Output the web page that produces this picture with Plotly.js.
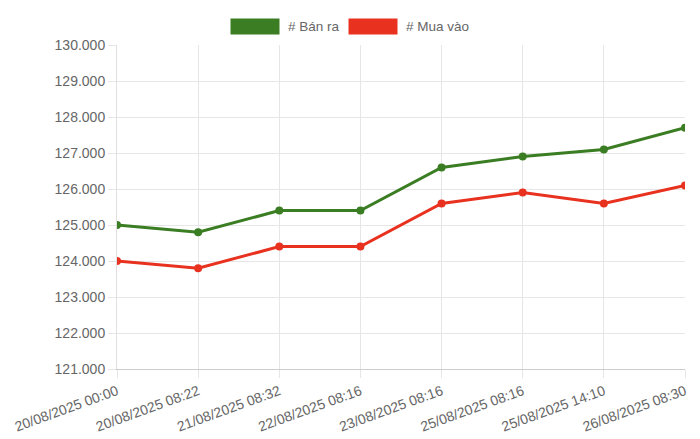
<!DOCTYPE html>
<html>
<head>
<meta charset="utf-8">
<script src="https://cdn.plot.ly/plotly-3.0.1.min.js"></script>
<style>html,body{margin:0;padding:0;background:#fff}#chart{width:700px;height:439px}</style>
</head>
<body>
<div id="chart"></div>
<script>
const categories = ["20/08/2025 00:00","20/08/2025 08:22","21/08/2025 08:32","22/08/2025 08:16","23/08/2025 08:16","25/08/2025 08:16","25/08/2025 14:10","26/08/2025 08:30"];
const banRa = [125000,124800,125400,125400,126600,126900,127100,127700];
const muaVao = [124000,123800,124400,124400,125600,125900,125600,126100];
const seriesNames = ["# Bán ra","# Mua vào"];
const colors = ["#3a7d22","#e8321f"];

const M = {l:117, r:15, t:45, b:70};
const W = 700, H = 439;
const pw = W - M.l - M.r, ph = H - M.t - M.b;
const px = v => (v - M.l) / pw;
const py = v => (H - M.b - v) / ph;

const font = {family:"Liberation Sans, Arial, Helvetica, sans-serif", size:13.5, color:"#666"};
const mk = (y, i) => ({
  x: categories, y: y, type:"scatter", mode:"lines+markers", name: seriesNames[i],
  line:{color:colors[i], width:3}, marker:{color:colors[i], size:8}, showlegend:false, hoverinfo:"x+y"
});
const data = [mk(banRa,0), mk(muaVao,1)];

// legend drawn as boxes + text
const legendBoxes = [[230,280],[348,398]];
const legendText = [286,404];
const shapes = legendBoxes.map((b,i) => ({type:"rect", xref:"paper", yref:"paper",
  x0:px(b[0]), x1:px(b[1]), y0:py(35), y1:py(18), fillcolor:colors[i], line:{color:"#fff", width:1}}));
const annotations = seriesNames.map((n,i) => ({xref:"paper", yref:"paper", x:px(legendText[i]), y:py(26.5),
  xanchor:"left", yanchor:"middle", text:n, showarrow:false, font:{...font, size:13.5}}));

const layout = {
  width:W, height:H,
  margin:M,
  paper_bgcolor:"#fff", plot_bgcolor:"#fff",
  font: font,
  separators: ",.",
  showlegend:false,
  shapes: shapes, annotations: annotations,
  xaxis:{type:"category", range:[0,7], showgrid:true, gridcolor:"#e6e6e6", gridwidth:1,
    ticks:"outside", ticklen:8, tickcolor:"#e6e6e6", tickangle:-20, showline:true, linecolor:"#ccc", linewidth:1,
    zeroline:false, tickfont:{...font, size:14}},
  yaxis:{range:[121000,130000], dtick:1000, tickformat:",d", showgrid:true, gridcolor:"#e6e6e6",
    ticks:"outside", ticklen:8, tickcolor:"#e6e6e6", showline:true, linecolor:"#e0e0e0", zeroline:false,
    tickfont:{...font, size:14}}
};
Plotly.newPlot("chart", data, layout, {displayModeBar:false, responsive:false});
</script>
</body>
</html>
